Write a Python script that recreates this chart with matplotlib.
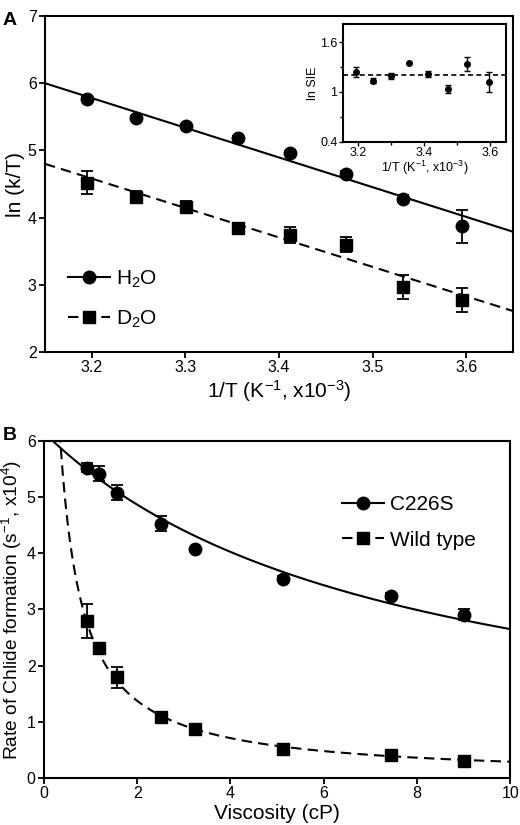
import numpy as np
import matplotlib
matplotlib.use("Agg")
import matplotlib.pyplot as plt
from matplotlib.lines import Line2D

plt.rcParams['font.family'] = ['Liberation Sans', 'DejaVu Sans']
plt.rcParams['mathtext.fontset'] = 'custom'
plt.rcParams['mathtext.rm'] = 'Liberation Sans'
plt.rcParams['mathtext.it'] = 'Liberation Sans:italic'
plt.rcParams['mathtext.default'] = 'regular'

# panel A: Arrhenius data
inv_T = [3.195, 3.247, 3.301, 3.356, 3.412, 3.472, 3.532, 3.596]
h2o = [5.77, 5.48, 5.36, 5.19, 4.96, 4.65, 4.28, 3.87]
h2o_err = [0.03, 0.03, 0.03, 0.03, 0.03, 0.04, 0.05, 0.25]
d2o = [4.52, 4.31, 4.16, 3.84, 3.74, 3.60, 2.97, 2.77]
d2o_err = [0.17, 0.08, 0.08, 0.02, 0.12, 0.11, 0.18, 0.18]
# linear fits: value at 1/T = 3.15 and slope
h2o_fit = [6.00, -4.42]
d2o_fit = [4.80, -4.38]

# inset: ln SIE
sie = [1.245, 1.133, 1.193, 1.346, 1.217, 1.04, 1.338, 1.124]
sie_err = [0.06, 0.03, 0.04, 0.0, 0.04, 0.05, 0.08, 0.12]
sie_mean = 1.20

# panel B: viscosity dependence
visc = [0.92, 1.19, 1.57, 2.50, 3.24, 5.12, 7.45, 9.00]
c226s = [5.52, 5.42, 5.08, 4.53, 4.07, 3.55, 3.24, 2.91]
c226s_err = [0.08, 0.14, 0.13, 0.13, 0.03, 0.05, 0.05, 0.10]
wt = [2.79, 2.31, 1.79, 1.08, 0.87, 0.52, 0.41, 0.31]
wt_err = [0.30, 0.06, 0.18, 0.05, 0.04, 0.04, 0.04, 0.04]
# hyperbolic fits k = k0 / (1 + c * viscosity)
c226s_fit = [6.15, 0.132]
wt_fit = [21.0, 7.15]

fig = plt.figure(figsize=(5.2, 8.25), dpi=100)

# ---------- panel A ----------
axA = fig.add_axes([0.0865, 0.5733, 0.9, 0.4073])
xx = np.linspace(3.15, 3.65, 50)
axA.plot(xx, h2o_fit[0] + h2o_fit[1] * (xx - 3.15), color='k', lw=1.5)
axA.plot(xx, d2o_fit[0] + d2o_fit[1] * (xx - 3.15), color='k', lw=1.5, dashes=(5, 3))
axA.errorbar(inv_T, h2o, yerr=h2o_err, fmt='o', color='k', ms=9, capsize=4, elinewidth=1.3, capthick=1.3)
axA.errorbar(inv_T, d2o, yerr=d2o_err, fmt='s', color='k', ms=8.5, capsize=4, elinewidth=1.3, capthick=1.3)
axA.set_xlim(3.15, 3.65)
axA.set_ylim(2, 7)
axA.set_xticks([3.2, 3.3, 3.4, 3.5, 3.6])
axA.set_yticks([2, 3, 4, 5, 6, 7])
axA.set_xlabel('1/T (K$^{-1}$, x10$^{-3}$)', fontsize=15, labelpad=2)
axA.set_ylabel('ln (k/T)', fontsize=15, labelpad=2)
handles = [Line2D([], [], color='k', marker='o', ms=9, lw=1.5),
           Line2D([], [], color='k', marker='s', ms=8.5, lw=1.5, dashes=(5, 3))]
axA.legend(handles, ['H$_2$O', 'D$_2$O'], loc='lower left', bbox_to_anchor=(0.01, 0.01),
           frameon=False, fontsize=15, handlelength=2.0, handletextpad=0.3, labelspacing=0.9)
fig.text(0.005, 0.985, 'A', fontsize=14, fontweight='bold', va='top')

# inset
axI = fig.add_axes([0.6596, 0.8282, 0.313, 0.1427])
axI.axhline(sie_mean, color='k', lw=1.2, dashes=(3, 2))
axI.errorbar(inv_T, sie, yerr=sie_err, fmt='o', color='k', ms=4, capsize=2, elinewidth=1, capthick=1)
axI.set_xlim(3.155, 3.648)
axI.set_ylim(0.4, 1.82)
axI.set_xticks([3.2, 3.4, 3.6])
axI.set_xticks([3.3, 3.5], minor=True)
axI.set_yticks([0.4, 1.0, 1.6])
axI.set_yticklabels(['0.4', '1', '1.6'])
axI.set_yticks([0.7, 1.3], minor=True)
axI.set_xlabel('1/T (K$^{-1}$, x10$^{-3}$)', fontsize=9, labelpad=0)
axI.set_ylabel('ln SIE', fontsize=9, labelpad=1)
axI.tick_params(labelsize=9, length=3, width=1, pad=1)
axI.tick_params(which='minor', length=2, width=1)
for s in axI.spines.values():
    s.set_linewidth(1.5)

# ---------- panel B ----------
axB = fig.add_axes([0.0846, 0.057, 0.8965, 0.4085])
vv = np.linspace(0, 10, 400)
axB.plot(vv, c226s_fit[0] / (1 + c226s_fit[1] * vv), color='k', lw=1.5)
axB.plot(vv, wt_fit[0] / (1 + wt_fit[1] * vv), color='k', lw=1.5, dashes=(5, 3))
axB.errorbar(visc, c226s, yerr=c226s_err, fmt='o', color='k', ms=9, capsize=4, elinewidth=1.3, capthick=1.3)
axB.errorbar(visc, wt, yerr=wt_err, fmt='s', color='k', ms=8.5, capsize=4, elinewidth=1.3, capthick=1.3)
axB.set_xlim(0, 10)
axB.set_ylim(0, 6)
axB.set_xticks([0, 2, 4, 6, 8, 10])
axB.set_yticks([0, 1, 2, 3, 4, 5, 6])
axB.set_xlabel('Viscosity (cP)', fontsize=15, labelpad=2)
axB.set_ylabel('Rate of Chlide formation (s$^{-1}$, x10$^{4}$)', fontsize=13.8, labelpad=2)
handles = [Line2D([], [], color='k', marker='o', ms=9, lw=1.5),
           Line2D([], [], color='k', marker='s', ms=8.5, lw=1.5, dashes=(5, 3))]
axB.legend(handles, ['C226S', 'Wild type'], loc='upper left', bbox_to_anchor=(0.60, 0.895),
           frameon=False, fontsize=15, handlelength=2.0, handletextpad=0.3, labelspacing=0.8)
fig.text(0.005, 0.482, 'B', fontsize=14, fontweight='bold', va='top')

for ax in (axA, axB):
    ax.tick_params(labelsize=11.5, length=4, width=1.3, pad=2)
    for s in ax.spines.values():
        s.set_linewidth(1.5)

fig.savefig('out.png', dpi=100)
